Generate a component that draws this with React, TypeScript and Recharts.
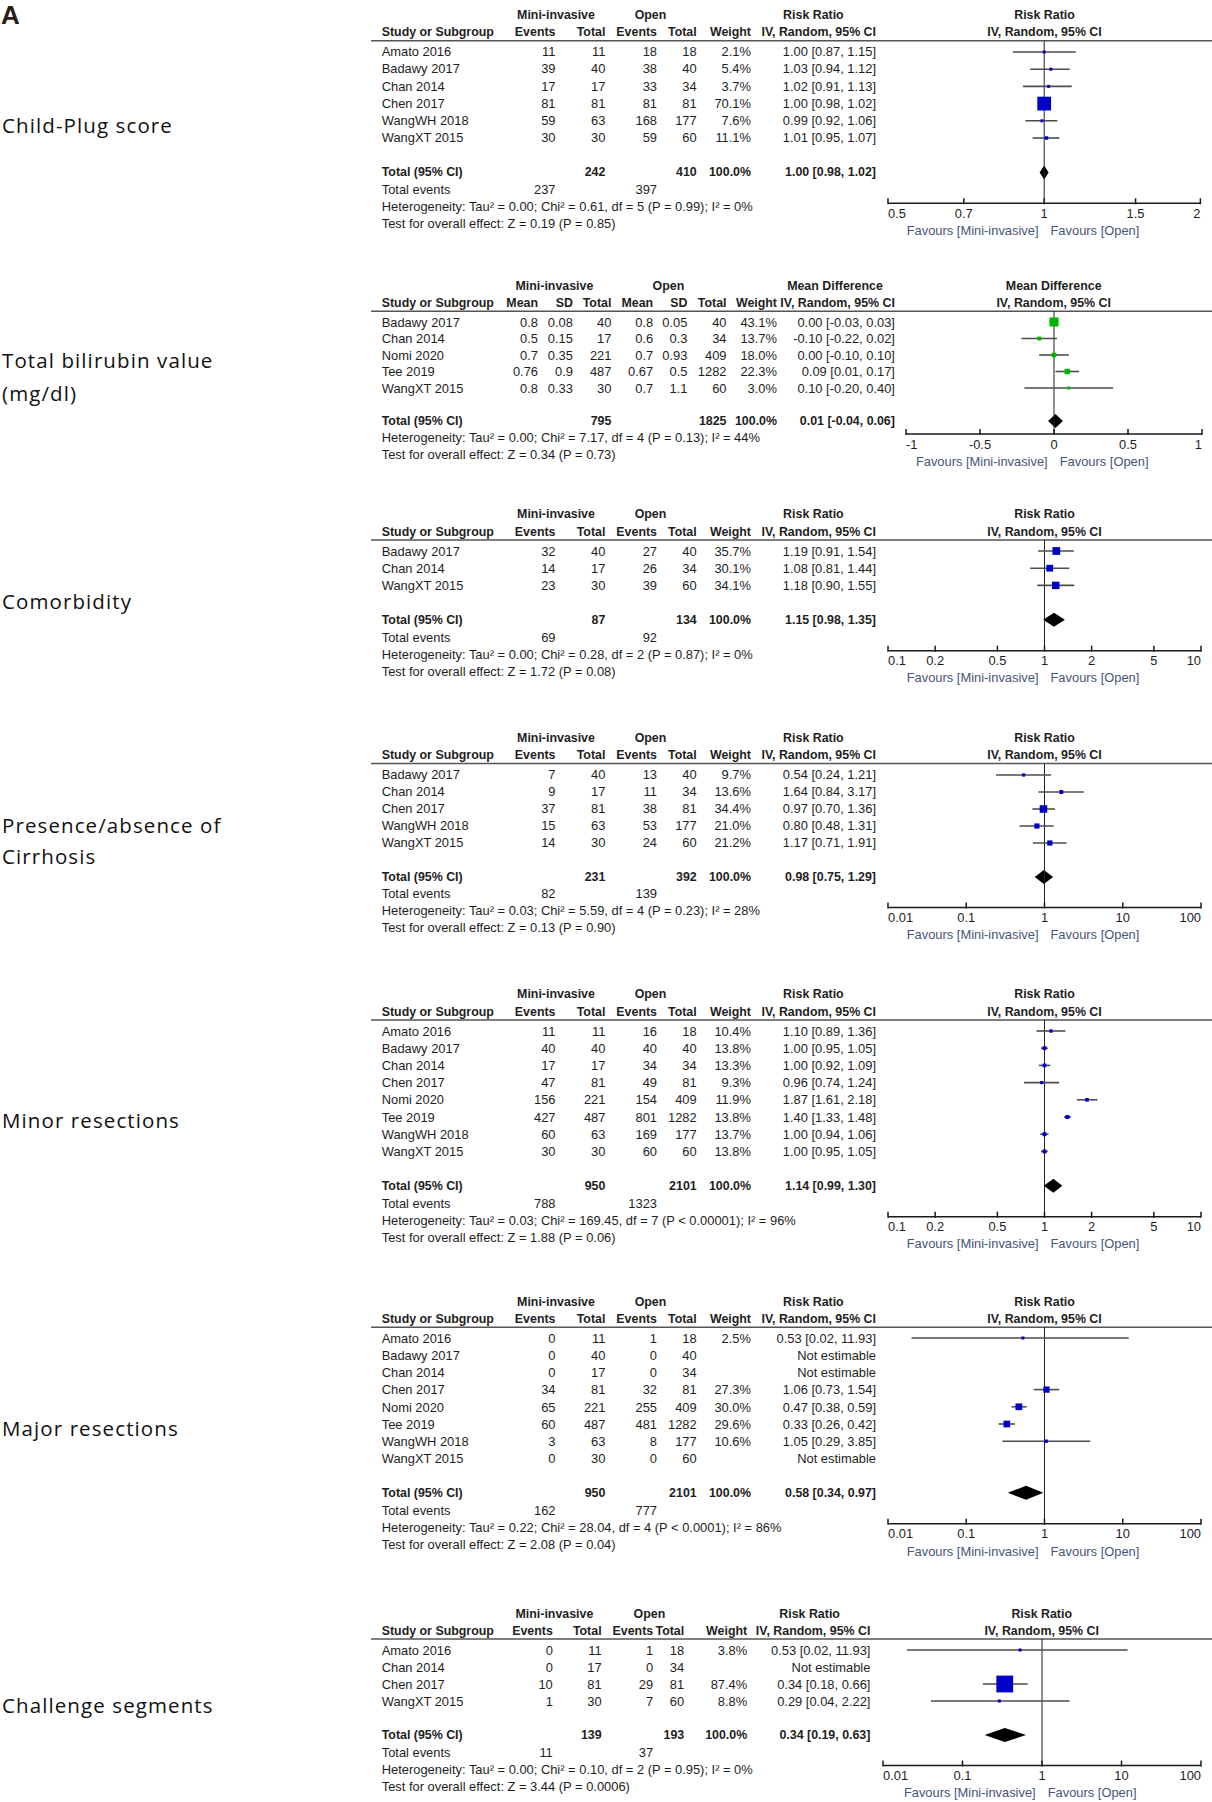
import React from "react";
import {
  ReferenceArea,
  ReferenceLine,
  Scatter,
  ScatterChart,
  XAxis,
  YAxis,
} from "recharts";

// ---------- Child-Plug score (risk ratio) ----------
const cpStudies = ["Amato 2016", "Badawy 2017", "Chan 2014", "Chen 2017", "WangWH 2018", "WangXT 2015"];
const cpMini = [[11, 11], [39, 40], [17, 17], [81, 81], [59, 63], [30, 30]];
const cpOpen = [[18, 18], [38, 40], [33, 34], [81, 81], [168, 177], [59, 60]];
const cpWeight = [2.1, 5.4, 3.7, 70.1, 7.6, 11.1];
const cpEst = [1.0, 1.03, 1.02, 1.0, 0.99, 1.01];
const cpLow = [0.87, 0.94, 0.91, 0.98, 0.92, 0.95];
const cpHigh = [1.15, 1.12, 1.13, 1.02, 1.06, 1.07];
const cpTotals = [242, 410];
const cpPooled = [1.0, 0.98, 1.02];
const cpEvents = [237, 397];
const cpTicks = [0.5, 0.7, 1, 1.5, 2];
const cpHet = "Heterogeneity: Tau² = 0.00; Chi² = 0.61, df = 5 (P = 0.99); I² = 0%";
const cpTest = "Test for overall effect: Z = 0.19 (P = 0.85)";

// ---------- Total bilirubin (mean difference) ----------
const biStudies = ["Badawy 2017", "Chan 2014", "Nomi 2020", "Tee 2019", "WangXT 2015"];
const biMini = [[0.8, 0.08, 40], [0.5, 0.15, 17], [0.7, 0.35, 221], [0.76, 0.9, 487], [0.8, 0.33, 30]];
const biOpen = [[0.8, 0.05, 40], [0.6, 0.3, 34], [0.7, 0.93, 409], [0.67, 0.5, 1282], [0.7, 1.1, 60]];
const biWeight = [43.1, 13.7, 18.0, 22.3, 3.0];
const biEst = [0.0, -0.1, 0.0, 0.09, 0.1];
const biLow = [-0.03, -0.22, -0.1, 0.01, -0.2];
const biHigh = [0.03, 0.02, 0.1, 0.17, 0.4];
const biTotals = [795, 1825];
const biPooled = [0.01, -0.04, 0.06];
const biTicks = [-1, -0.5, 0, 0.5, 1];
const biHet = "Heterogeneity: Tau² = 0.00; Chi² = 7.17, df = 4 (P = 0.13); I² = 44%";
const biTest = "Test for overall effect: Z = 0.34 (P = 0.73)";

// ---------- Comorbidity ----------
const coStudies = ["Badawy 2017", "Chan 2014", "WangXT 2015"];
const coMini = [[32, 40], [14, 17], [23, 30]];
const coOpen = [[27, 40], [26, 34], [39, 60]];
const coWeight = [35.7, 30.1, 34.1];
const coEst = [1.19, 1.08, 1.18];
const coLow = [0.91, 0.81, 0.9];
const coHigh = [1.54, 1.44, 1.55];
const coTotals = [87, 134];
const coPooled = [1.15, 0.98, 1.35];
const coEvents = [69, 92];
const coTicks = [0.1, 0.2, 0.5, 1, 2, 5, 10];
const coHet = "Heterogeneity: Tau² = 0.00; Chi² = 0.28, df = 2 (P = 0.87); I² = 0%";
const coTest = "Test for overall effect: Z = 1.72 (P = 0.08)";

// ---------- Cirrhosis ----------
const ciStudies = ["Badawy 2017", "Chan 2014", "Chen 2017", "WangWH 2018", "WangXT 2015"];
const ciMini = [[7, 40], [9, 17], [37, 81], [15, 63], [14, 30]];
const ciOpen = [[13, 40], [11, 34], [38, 81], [53, 177], [24, 60]];
const ciWeight = [9.7, 13.6, 34.4, 21.0, 21.2];
const ciEst = [0.54, 1.64, 0.97, 0.8, 1.17];
const ciLow = [0.24, 0.84, 0.7, 0.48, 0.71];
const ciHigh = [1.21, 3.17, 1.36, 1.31, 1.91];
const ciTotals = [231, 392];
const ciPooled = [0.98, 0.75, 1.29];
const ciEvents = [82, 139];
const ciTicks = [0.01, 0.1, 1, 10, 100];
const ciHet = "Heterogeneity: Tau² = 0.03; Chi² = 5.59, df = 4 (P = 0.23); I² = 28%";
const ciTest = "Test for overall effect: Z = 0.13 (P = 0.90)";

// ---------- Minor resections ----------
const miStudies = ["Amato 2016", "Badawy 2017", "Chan 2014", "Chen 2017", "Nomi 2020", "Tee 2019", "WangWH 2018", "WangXT 2015"];
const miMini = [[11, 11], [40, 40], [17, 17], [47, 81], [156, 221], [427, 487], [60, 63], [30, 30]];
const miOpen = [[16, 18], [40, 40], [34, 34], [49, 81], [154, 409], [801, 1282], [169, 177], [60, 60]];
const miWeight = [10.4, 13.8, 13.3, 9.3, 11.9, 13.8, 13.7, 13.8];
const miEst = [1.1, 1.0, 1.0, 0.96, 1.87, 1.4, 1.0, 1.0];
const miLow = [0.89, 0.95, 0.92, 0.74, 1.61, 1.33, 0.94, 0.95];
const miHigh = [1.36, 1.05, 1.09, 1.24, 2.18, 1.48, 1.06, 1.05];
const miTotals = [950, 2101];
const miPooled = [1.14, 0.99, 1.3];
const miEvents = [788, 1323];
const miTicks = [0.1, 0.2, 0.5, 1, 2, 5, 10];
const miHet = "Heterogeneity: Tau² = 0.03; Chi² = 169.45, df = 7 (P < 0.00001); I² = 96%";
const miTest = "Test for overall effect: Z = 1.88 (P = 0.06)";

// ---------- Major resections ----------
const maStudies = ["Amato 2016", "Badawy 2017", "Chan 2014", "Chen 2017", "Nomi 2020", "Tee 2019", "WangWH 2018", "WangXT 2015"];
const maMini = [[0, 11], [0, 40], [0, 17], [34, 81], [65, 221], [60, 487], [3, 63], [0, 30]];
const maOpen = [[1, 18], [0, 40], [0, 34], [32, 81], [255, 409], [481, 1282], [8, 177], [0, 60]];
const maWeight = [2.5, null, null, 27.3, 30.0, 29.6, 10.6, null];
const maEst = [0.53, null, null, 1.06, 0.47, 0.33, 1.05, null];
const maLow = [0.02, null, null, 0.73, 0.38, 0.26, 0.29, null];
const maHigh = [11.93, null, null, 1.54, 0.59, 0.42, 3.85, null];
const maTotals = [950, 2101];
const maPooled = [0.58, 0.34, 0.97];
const maEvents = [162, 777];
const maTicks = [0.01, 0.1, 1, 10, 100];
const maHet = "Heterogeneity: Tau² = 0.22; Chi² = 28.04, df = 4 (P < 0.0001); I² = 86%";
const maTest = "Test for overall effect: Z = 2.08 (P = 0.04)";

// ---------- Challenge segments ----------
const chStudies = ["Amato 2016", "Chan 2014", "Chen 2017", "WangXT 2015"];
const chMini = [[0, 11], [0, 17], [10, 81], [1, 30]];
const chOpen = [[1, 18], [0, 34], [29, 81], [7, 60]];
const chWeight = [3.8, null, 87.4, 8.8];
const chEst = [0.53, null, 0.34, 0.29];
const chLow = [0.02, null, 0.18, 0.04];
const chHigh = [11.93, null, 0.66, 2.22];
const chTotals = [139, 193];
const chPooled = [0.34, 0.19, 0.63];
const chEvents = [11, 37];
const chTicks = [0.01, 0.1, 1, 10, 100];
const chHet = "Heterogeneity: Tau² = 0.00; Chi² = 0.10, df = 2 (P = 0.95); I² = 0%";
const chTest = "Test for overall effect: Z = 3.44 (P = 0.0006)";

// layout (pixels)
const RR_COLS = [555.5, 605.4, 657, 696.7, 751, 876];
const RR_HEAD = [556, 650.5, 813.4];
const MD_COLS = [538, 572.9, 611.4, 653.2, 687.4, 726.5, 777, 894.9];
const MD_HEAD = [554.4, 668.4, 835];
const CH_COLS = [552.8, 601.6, 653.2, 684.2, 747.2, 870.4];
const CH_HEAD = [554.4, 649.4, 809.6];

const STUDY_X = 381.7;
const TXT = "#1e1e1e";
const FONT = "'Liberation Sans', Arial, sans-serif";
const LABEL_FONT = "'Open Sans', 'Noto Sans', sans-serif";

type Panel = {
  label: string[];
  labelY: number[];
  md: boolean;
  studies: string[];
  mini: number[][];
  open: number[][];
  weight: (number | null)[];
  est: (number | null)[];
  low: (number | null)[];
  high: (number | null)[];
  totals: number[];
  pooled: number[];
  events: number[] | null;
  ticks: number[];
  het: string;
  test: string;
  row0: number;
  step: number;
  x0: number;
  x1: number;
  cols: number[];
  head: number[];
};

const panels: Panel[] = [
  { label: ["Child-Plug score"], labelY: [125], md: false, studies: cpStudies, mini: cpMini, open: cpOpen, weight: cpWeight, est: cpEst, low: cpLow, high: cpHigh, totals: cpTotals, pooled: cpPooled, events: cpEvents, ticks: cpTicks, het: cpHet, test: cpTest, row0: 51.7, step: 17.2, x0: 888.3, x1: 1200.7, cols: RR_COLS, head: RR_HEAD },
  { label: ["Total bilirubin value", "(mg/dl)"], labelY: [360, 393], md: true, studies: biStudies, mini: biMini, open: biOpen, weight: biWeight, est: biEst, low: biLow, high: biHigh, totals: biTotals, pooled: biPooled, events: null, ticks: biTicks, het: biHet, test: biTest, row0: 322.3, step: 16.5, x0: 905.7, x1: 1201.7, cols: MD_COLS, head: MD_HEAD },
  { label: ["Comorbidity"], labelY: [601], md: false, studies: coStudies, mini: coMini, open: coOpen, weight: coWeight, est: coEst, low: coLow, high: coHigh, totals: coTotals, pooled: coPooled, events: coEvents, ticks: coTicks, het: coHet, test: coTest, row0: 551, step: 17.2, x0: 888, x1: 1201, cols: RR_COLS, head: RR_HEAD },
  { label: ["Presence/absence of", "Cirrhosis"], labelY: [825, 856], md: false, studies: ciStudies, mini: ciMini, open: ciOpen, weight: ciWeight, est: ciEst, low: ciLow, high: ciHigh, totals: ciTotals, pooled: ciPooled, events: ciEvents, ticks: ciTicks, het: ciHet, test: ciTest, row0: 774.5, step: 17, x0: 888, x1: 1201, cols: RR_COLS, head: RR_HEAD },
  { label: ["Minor resections"], labelY: [1120], md: false, studies: miStudies, mini: miMini, open: miOpen, weight: miWeight, est: miEst, low: miLow, high: miHigh, totals: miTotals, pooled: miPooled, events: miEvents, ticks: miTicks, het: miHet, test: miTest, row0: 1031, step: 17.2, x0: 888, x1: 1201, cols: RR_COLS, head: RR_HEAD },
  { label: ["Major resections"], labelY: [1428], md: false, studies: maStudies, mini: maMini, open: maOpen, weight: maWeight, est: maEst, low: maLow, high: maHigh, totals: maTotals, pooled: maPooled, events: maEvents, ticks: maTicks, het: maHet, test: maTest, row0: 1338.3, step: 17.2, x0: 888, x1: 1201, cols: RR_COLS, head: RR_HEAD },
  { label: ["Challenge segments"], labelY: [1705], md: false, studies: chStudies, mini: chMini, open: chOpen, weight: chWeight, est: chEst, low: chLow, high: chHigh, totals: chTotals, pooled: chPooled, events: chEvents, ticks: chTicks, het: chHet, test: chTest, row0: 1650, step: 17, x0: 882.7, x1: 1200.7, cols: CH_COLS, head: CH_HEAD },
];

const fmtCI = (e: number, l: number, h: number) => `${e.toFixed(2)} [${l.toFixed(2)}, ${h.toFixed(2)}]`;
const boxSide = (w: number) => Math.max(3, 1.5 + 0.175 * w);

function geom(p: Panel) {
  const n = p.studies.length;
  const kHet = n + (p.events ? 3 : 2);
  const ruleY = p.row0 - 11;
  const axisY = p.row0 + kHet * p.step - 3.5;
  return { n, kHet, ruleY, axisY, rowY: (k: number) => p.row0 + k * p.step };
}

function T({ x, y, a = "start", b = false, c = TXT, children }: any) {
  return (
    <text x={x} y={y} textAnchor={a} dominantBaseline="central" fontFamily={FONT} fontSize={b ? 12.4 : 12.9} fontWeight={b ? "bold" : "normal"} fill={c}>
      {children}
    </text>
  );
}

function PanelText({ p }: { p: Panel }) {
  const { n, ruleY, axisY, rowY } = geom(p);
  const h2 = p.row0 - 19.5;
  const h1 = h2 - p.step;
  const mid = (p.x0 + p.x1) / 2;
  const c = p.cols;
  const effName = p.md ? "Mean Difference" : "Risk Ratio";
  const sub = p.md ? ["Mean", "SD", "Total", "Mean", "SD", "Total", "Weight"] : ["Events", "Total", "Events", "Total", "Weight"];
  const ciCol = c[c.length - 1];
  const wCol = c[c.length - 2];
  const totA = p.md ? c[2] : c[1];
  const totB = p.md ? c[5] : c[3];
  const kT = n + 1;
  const kNext = p.events ? n + 3 : n + 2;
  return (
    <g>
      {p.label.map((s, i) => (
        <text key={s} x={2} y={p.labelY[i]} dominantBaseline="central" fontFamily={LABEL_FONT} fontSize={20.5} letterSpacing={1.1} fill="#111">
          {s}
        </text>
      ))}
      <T x={p.head[0]} y={h1} a="middle" b>Mini-invasive</T>
      <T x={p.head[1]} y={h1} a="middle" b>Open</T>
      <T x={p.head[2]} y={h1} a="middle" b>{effName}</T>
      <T x={mid} y={h1} a="middle" b>{effName}</T>
      <T x={STUDY_X} y={h2} b>Study or Subgroup</T>
      {sub.map((s, i) => (
        <T key={i} x={c[i]} y={h2} a="end" b>{s}</T>
      ))}
      <T x={ciCol} y={h2} a="end" b>IV, Random, 95% CI</T>
      <T x={mid} y={h2} a="middle" b>IV, Random, 95% CI</T>
      <line x1={371} x2={1212} y1={ruleY} y2={ruleY} stroke="#555" strokeWidth={1.6} />
      {p.studies.map((s, i) => {
        const vals = [...p.mini[i], ...p.open[i]];
        const w = p.weight[i];
        const e = p.est[i];
        return (
          <g key={s}>
            <T x={STUDY_X} y={rowY(i)}>{s}</T>
            {vals.map((v, j) => (
              <T key={j} x={c[j]} y={rowY(i)} a="end">{String(v)}</T>
            ))}
            {w != null && <T x={wCol} y={rowY(i)} a="end">{w.toFixed(1) + "%"}</T>}
            <T x={ciCol} y={rowY(i)} a="end">
              {e != null ? fmtCI(e, p.low[i] as number, p.high[i] as number) : "Not estimable"}
            </T>
          </g>
        );
      })}
      <T x={STUDY_X} y={rowY(kT)} b>Total (95% CI)</T>
      <T x={totA} y={rowY(kT)} a="end" b>{String(p.totals[0])}</T>
      <T x={totB} y={rowY(kT)} a="end" b>{String(p.totals[1])}</T>
      <T x={wCol} y={rowY(kT)} a="end" b>100.0%</T>
      <T x={ciCol} y={rowY(kT)} a="end" b>{fmtCI(p.pooled[0], p.pooled[1], p.pooled[2])}</T>
      {p.events && (
        <>
          <T x={STUDY_X} y={rowY(n + 2)}>Total events</T>
          <T x={c[0]} y={rowY(n + 2)} a="end">{String(p.events[0])}</T>
          <T x={c[2]} y={rowY(n + 2)} a="end">{String(p.events[1])}</T>
        </>
      )}
      <T x={STUDY_X} y={rowY(kNext)}>{p.het}</T>
      <T x={STUDY_X} y={rowY(kNext + 1)}>{p.test}</T>
      <T x={mid - 6} y={axisY + 27} a="end" c="#46557a">Favours [Mini-invasive]</T>
      <T x={mid + 6} y={axisY + 27} c="#46557a">Favours [Open]</T>
    </g>
  );
}

const PAD = 6;
const AXH = 26;

function ForestPlot({ p }: { p: Panel }) {
  const { n, ruleY, axisY } = geom(p);
  const plotH = axisY - ruleY;
  const yMin = -11 / p.step;
  const yMax = (axisY - p.row0) / p.step;
  const kT = n + 1;
  const half = 7 / p.step;
  const color = p.md ? "#00b400" : "#0000c8";
  const pts = p.studies
    .map((s, i) => ({ name: s, est: p.est[i], row: i, w: p.weight[i] }))
    .filter((d) => d.est != null);
  const first = p.ticks[0];
  const last = p.ticks[p.ticks.length - 1];
  const nullX = p.md ? 0 : 1;

  const tick = (props: any) => {
    const { x, y, payload } = props;
    const v = payload.value;
    const anchor = v === first ? "start" : v === last ? "end" : "middle";
    return (
      <g>
        <line x1={x} x2={x} y1={y - 5} y2={y + 1} stroke="#1a1a1a" strokeWidth={1.5} />
        <text x={x} y={y + 10} textAnchor={anchor} dominantBaseline="central" fontFamily={FONT} fontSize={12.9} fill={TXT}>
          {String(v)}
        </text>
      </g>
    );
  };

  const box = (props: any) => {
    const s = boxSide(props.payload.w);
    return <rect x={props.cx - s / 2} y={props.cy - s / 2} width={s} height={s} fill={color} />;
  };

  const diamond = (props: any) => {
    const { x, y, width, height } = props;
    const [e, l, h] = p.pooled;
    const f = p.md ? (e - l) / (h - l) : Math.log(e / l) / Math.log(h / l);
    const cx = x + f * width;
    const cy = y + height / 2;
    return <polygon points={`${x},${cy} ${cx},${y} ${x + width},${cy} ${cx},${y + height}`} fill="#000" />;
  };

  return (
    <div style={{ position: "absolute", left: p.x0 - PAD, top: ruleY }}>
      <ScatterChart width={p.x1 - p.x0 + 2 * PAD} height={plotH + AXH} margin={{ top: 0, right: PAD, bottom: 0, left: PAD }}>
        <XAxis
          type="number"
          dataKey="est"
          scale={p.md ? "linear" : "log"}
          domain={[first, last]}
          ticks={p.ticks}
          interval={0}
          allowDataOverflow
          height={AXH}
          tickSize={0}
          tickMargin={0}
          tickLine={false}
          axisLine={{ stroke: "#1a1a1a", strokeWidth: 1.5 }}
          tick={tick}
        />
        <YAxis type="number" dataKey="row" domain={[yMin, yMax]} reversed hide width={0} allowDataOverflow />
        <ReferenceLine x={nullX} stroke="#222" strokeWidth={1} />
        {p.studies.map((s, i) =>
          p.est[i] == null ? null : (
            <ReferenceLine
              key={s}
              segment={[{ x: p.low[i] as number, y: i }, { x: p.high[i] as number, y: i }]}
              stroke="#4d4d4d"
              strokeWidth={1.6}
            />
          )
        )}
        <Scatter data={pts} shape={box} isAnimationActive={false} />
        <ReferenceArea x1={p.pooled[1]} x2={p.pooled[2]} y1={kT - half} y2={kT + half} shape={diamond} />
      </ScatterChart>
    </div>
  );
}

export default function App() {
  return (
    <div style={{ position: "relative", width: 1212, height: 1802, background: "#fff", overflow: "hidden" }}>
      <style>{"body{margin:0}"}</style>
      <svg width={1212} height={1802} style={{ position: "absolute", left: 0, top: 0 }}>
        <text x={1} y={24} fontFamily="'Liberation Sans', Arial, sans-serif" fontWeight="bold" fontSize={26} fill="#2a1d14">
          A
        </text>
        {panels.map((p, i) => (
          <PanelText key={i} p={p} />
        ))}
      </svg>
      {panels.map((p, i) => (
        <ForestPlot key={i} p={p} />
      ))}
    </div>
  );
}
